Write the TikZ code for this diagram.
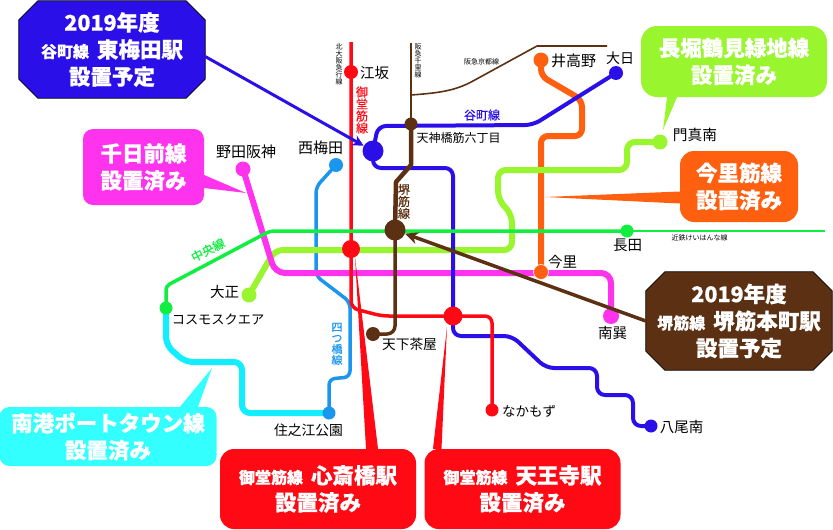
\documentclass[tikz,border=0pt]{standalone}
\usepackage{fontspec}
\setmainfont{Noto Sans CJK JP}[BoldFeatures={FakeBold=0.5}]
\newfontface\medfont{Noto Sans CJK JP}[FakeBold=0.4]
\usetikzlibrary{arrows.meta}
\pgfdeclarelayer{bg}
\pgfdeclarelayer{cb}
\pgfsetlayers{bg,cb,main}
\definecolor{cblue}{HTML}{2A0FE8}
\definecolor{cmag}{HTML}{FF33EE}
\definecolor{clime}{HTML}{99F52D}
\definecolor{corange}{HTML}{FF6010}
\definecolor{cgreen}{HTML}{10EE40}
\definecolor{ccyan}{HTML}{33FFFF}
\definecolor{ccyanl}{HTML}{10EEFF}
\definecolor{clblue}{HTML}{1A96EE}
\definecolor{cred}{HTML}{FF0A14}
\definecolor{cbrown}{HTML}{5C3012}
\newcommand\fsz[1]{\fontsize{#1}{#1}\selectfont}
\newcommand\smtxt[1]{{\fontsize{16}{16}\selectfont #1}\hspace{8pt}}
\newcommand\octagonfill[2]{\begin{pgfonlayer}{cb}
\filldraw[fill=#2,draw=black,line width=0.7pt]
 ([xshift=19pt]#1.north west) -- ([xshift=-19pt]#1.north east) -- ([yshift=-19pt]#1.north east) -- ([yshift=19pt]#1.south east)
 -- ([xshift=-19pt]#1.south east) -- ([xshift=19pt]#1.south west) -- ([yshift=19pt]#1.south west) -- ([yshift=-19pt]#1.north west) -- cycle;
\end{pgfonlayer}}
\tikzset{
  stn/.style={circle,inner sep=0pt,fill=#1},
  lbl/.style={inner sep=0pt,text=black,font=\fsz{#1}},
  vlbl/.style={inner sep=0pt,align=center,font=\fsz{#1}},
  blbl/.style={inner sep=0pt,font=\medfont\fsz{#1}},
  vblbl/.style={inner sep=0pt,align=center,font=\medfont\fsz{#1}},
  rline/.style={line join=round,rounded corners=#1},
  pill/.style={fill=#1,rounded corners=10pt,inner sep=0pt,text=white,align=center,
    font=\bfseries\fontsize{21.5}{27}\selectfont},
  octa/.style={inner sep=0pt,text=white,align=center,
    font=\bfseries\fontsize{21.5}{27}\selectfont},
}
\begin{document}
\begin{tikzpicture}[x=1pt,y=-1pt]
\useasboundingbox (0,0) rectangle (833,530);
% free ends
\coordinate (midoN) at (351,42);
\coordinate (senriN) at (411,43);
\coordinate (kyotoE) at (607,46);
\coordinate (kyotoW) at (411,95);
\coordinate (kintetsuE) at (825,231);
% stations
\node[stn=cred,minimum size=14pt] (esaka) at (351,72) {};
\node[stn=cred,minimum size=18pt] (shinsai) at (351,249) {};
\node[stn=cred,minimum size=19pt] (tennoji) at (453,316) {};
\node[stn=cred,minimum size=13pt] (nakamozu) at (492,410) {};
\node[stn=cblue,minimum size=21pt] (higashi) at (373,151) {};
\node[stn=cblue,minimum size=14pt] (dainichi) at (616,73) {};
\node[stn=cblue,minimum size=13pt] (yaominami) at (651,426) {};
\node[stn=cbrown,minimum size=13pt] (tenroku) at (411,124) {};
\node[stn=cbrown,minimum size=21pt] (sakai) at (395,230) {};
\node[stn=cbrown,minimum size=14pt] (tenga) at (373,334) {};
\node[stn=corange,minimum size=15pt] (itakano) at (541,60) {};
\node[stn=corange,draw=white,line width=0.6pt,minimum size=15pt] (imazato) at (541,272) {};
\node[stn=clime,minimum size=15pt] (kadoma) at (660,142) {};
\node[stn=clime,minimum size=15pt] (taisho) at (249,295) {};
\node[stn=cgreen,minimum size=13pt] (nagata) at (627,231) {};
\node[stn=cgreen,minimum size=13pt] (cosmo) at (166,308) {};
\node[stn=cmag,minimum size=15pt] (noda) at (243,169) {};
\node[stn=cmag,minimum size=16pt] (minami) at (611,316) {};
\node[stn=clblue,minimum size=14pt] (nishi) at (336,165) {};
\node[stn=clblue,minimum size=13pt] (suminoe) at (329,413) {};
% lines
\begin{pgfonlayer}{bg}
\draw[ccyanl,line width=6pt,rline=8pt] (cosmo.center) -- (166,345) -- (185,362) -- (242,362) -- (242,413) -- (suminoe.center);
\draw[clblue,line width=3.5pt,rline=6pt] (nishi.center) -- (316,187) -- (316,276) -- (350,302) -- (350,377) -- (329,379) -- (suminoe.center);
\draw[corange,line width=6pt,rline=7pt] (itakano.center) -- (541,76) -- (582,100) -- (582,136) -- (541,136) -- (imazato.center);
\draw[clime,line width=6pt,rline=8pt] (kadoma.center) -- (627,142) -- (627,170) -- (498,170) -- (498,199) -- (512,215) -- (512,250) -- (275,250) -- (taisho.center);
\draw[cmag,line width=6pt,rline=10pt] (noda.center) -- (275,273) -- (611,273) -- (minami.center);
\draw[cblue,line width=4pt,rline=8pt] (dainichi.center) -- (533,125) -- (378,126) -- (higashi.center) -- (373,168) -- (453,168) -- (453,336) -- (512,336) -- (546,368) -- (597,368) -- (597,395) -- (633,395) -- (633,426) -- (yaominami.center);
\draw[cred,line width=3.5pt,rline=7pt] (midoN) -- (351,308) -- (382,316) -- (492,316) -- (nakamozu.center);
\draw[cbrown,line width=2pt] (senriN) -- (tenroku.center);
\draw[cbrown,line width=1.6pt,line join=round] (kyotoW) .. controls (438,93) and (455,91) .. (473,81) -- (537,46) -- (kyotoE);
\draw[cbrown,line width=4.5pt,line join=round] (tenroku.center) -- (411,165) -- (396,182) -- (sakai.center);
\draw[cbrown,line width=3.5pt,rline=8pt] (sakai.center) -- (395,334) -- (tenga.center);
\draw[cgreen,line width=3.5pt,rline=4pt] (nagata.center) -- (270,231) -- (166,286) -- (cosmo.center);
\draw[cgreen,line width=1.5pt] (nagata.center) -- (kintetsuE);
\end{pgfonlayer}
% callouts
\node[octa,minimum width=186pt,minimum height=97pt] (cbT) at (112,49.5) {2019年度\\\smtxt{谷町線}東梅田駅\\設置予定};
\octagonfill{cbT}{cblue}
\node[octa,minimum width=186pt,minimum height=98pt] (cbS) at (739,321) {2019年度\\\smtxt{堺筋線}堺筋本町駅\\設置予定};
\octagonfill{cbS}{cbrown}
\node[pill=cmag,minimum width=121pt,minimum height=76pt] (cMag) at (143.5,167) {千日前線\\設置済み};
\node[pill=clime,rounded corners=16pt,minimum width=186pt,minimum height=71pt] (cLime) at (734,61.5) {長堀鶴見緑地線\\設置済み};
\node[pill=corange,rounded corners=14pt,minimum width=118pt,minimum height=71pt] (cOra) at (739,186.5) {今里筋線\\設置済み};
\node[pill=ccyan,minimum width=217pt,minimum height=59pt] (cCya) at (108,436.5) {南港ポートタウン線\\設置済み};
\node[pill=cred,rounded corners=14pt,minimum width=196pt,minimum height=80pt] (cRed) at (318,489) {\smtxt{御堂筋線}心斎橋駅\\設置済み};
\node[pill=cred,rounded corners=14pt,minimum width=196pt,minimum height=80pt] (cRedb) at (522.5,489) {\smtxt{御堂筋線}天王寺駅\\設置済み};
% pointers
\coordinate (pMag) at (246,193);
\coordinate (pLime) at (663,130);
\coordinate (pOra) at (545,197);
\coordinate (pCya) at (212,368);
\coordinate (pRed) at (355,257);
\coordinate (pRedb) at (447,327);
\fill[cmag] ([yshift=-8pt]cMag.east) -- ([yshift=-21pt]cMag.east) -- (pMag) -- cycle;
\fill[clime] ([xshift=-67pt]cLime.south) -- ([xshift=-57pt]cLime.south) -- (pLime) -- cycle;
\fill[corange] ([yshift=-5pt]cOra.west) -- ([yshift=-17pt]cOra.west) -- (pOra) -- cycle;
\fill[ccyan] ([xshift=72pt]cCya.north) -- ([xshift=90pt]cCya.north) -- (pCya) -- cycle;
\fill[cred] ([xshift=48pt]cRed.north) -- ([xshift=60pt]cRed.north) -- (pRed) -- cycle;
\fill[cred] ([xshift=-89.5pt]cRedb.north) -- ([xshift=-81pt]cRedb.north) -- (pRedb) -- cycle;
\draw[cblue,line width=3pt,-{Stealth[length=11pt,width=11pt]}] ([yshift=-7pt]cbT.east) -- (higashi);
\draw[cbrown,line width=3.5pt,-{Stealth[length=13pt,width=12pt]}] (cbS.west) -- (sakai);
% station labels
\node[lbl=14.5] (lEsaka) at (374.5,73) {江坂};
\node[lbl=15] (lItakano) at (573.5,61) {井高野};
\node[lbl=14] (lDainichi) at (620,58) {大日};
\node[lbl=12] (lTenroku) at (458.5,138) {天神橋筋六丁目};
\node[lbl=15] (lNishi) at (320.5,148) {西梅田};
\node[lbl=15] (lNoda) at (246,152) {野田阪神};
\node[lbl=14.7] (lKadoma) at (695,135) {門真南};
\node[lbl=14.5] (lNagata) at (627.5,245) {長田};
\node[lbl=7] (lKintetsu) at (699.5,238) {近鉄けいはんな線};
\node[lbl=14.5] (lImazato) at (562.5,262) {今里};
\node[lbl=14.5] (lMinami) at (612.5,333) {南巽};
\node[lbl=13.5] (lNaka) at (529,411) {なかもず};
\node[lbl=14.5] (lYao) at (681.5,427) {八尾南};
\node[lbl=14.5] (lTaisho) at (224.5,292) {大正};
\node[lbl=13.2] (lCosmo) at (218,319) {コスモスクエア};
\node[lbl=13.7] (lTenga) at (409.5,344) {天下茶屋};
\node[lbl=13.8] (lSumi) at (308.5,430) {住之江公園};
% line labels
\node[vblbl=12,text=cred] (vMido) at (362,110) {御\\堂\\筋\\線};
\node[vblbl=12,text=cbrown] (vSakai) at (404,201.5) {堺\\筋\\線};
\node[blbl=12,text=cblue] (lTani) at (482,115) {谷町線};
\node[vblbl=11,text=clblue] (vYotsu) at (337,344) {四\\つ\\橋\\線};
\node[blbl=12,text=cgreen,rotate=27] (lChuo) at (208,250) {中央線};
\node[vlbl=7,text=black] (vKita) at (339,64) {北\\大\\阪\\急\\行\\線};
\node[vlbl=7,text=black] (vSenri) at (418,60.5) {阪\\急\\千\\里\\線};
\node[lbl=7] (lKyoto) at (481.5,62) {阪急京都線};
\end{tikzpicture}
\end{document}
